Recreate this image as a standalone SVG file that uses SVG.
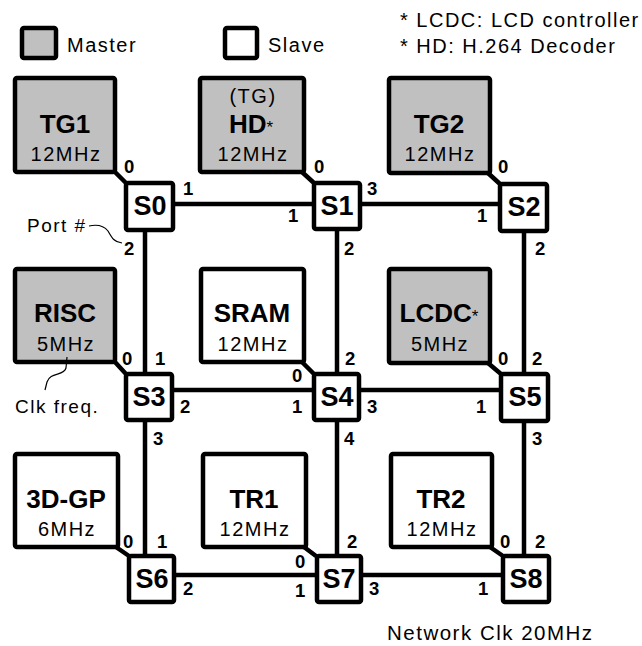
<svg xmlns="http://www.w3.org/2000/svg" width="642" height="646" viewBox="0 0 642 646">
<style>
  .m{fill:#c0c0c0;stroke:#000;stroke-width:4.5}
  .s{fill:#fff;stroke:#000;stroke-width:4.5}
  .ln{stroke:#000;stroke-width:4.5;fill:none}
  .thin{stroke:#000;stroke-width:1.2;fill:none}
  text{font-family:"Liberation Sans",Arial,sans-serif;fill:#000}
  .t{font-size:26px;font-weight:bold;text-anchor:middle}
  .f{font-size:20px;letter-spacing:1.5px;text-anchor:middle}
  .r{font-size:20px;letter-spacing:1.5px}
  .sw{font-size:27px;font-weight:bold;text-anchor:middle}
  .p{font-size:18.5px;font-weight:bold}
  .ast{font-size:17px;font-weight:normal}
</style>
<rect width="642" height="646" fill="#fff"/>
<g id="legend">
  <rect class="m" x="22" y="28" width="34" height="30" rx="2"/>
  <text class="r" x="67" y="52">Master</text>
  <rect class="s" x="225" y="28" width="32" height="30" rx="2"/>
  <text class="r" x="268" y="52">Slave</text>
  <text class="r" x="400" y="27">* LCDC: LCD controller</text>
  <text class="r" x="400" y="53">* HD: H.264 Decoder</text>
</g>
<g id="connectors">
  <path class="ln" d="M115,172 L126,183 M302,172 L314,183 M488,173 L500,184"/>
  <path class="ln" d="M115,362 L126,374 M302,362 L314,374 M488,363 L501,374"/>
  <path class="ln" d="M116,547 L129,556 M304,547 L316,556 M490,547 L503,556"/>
  <path class="ln" d="M175,204 L312,204 M362,204 L498,204"/>
  <path class="ln" d="M174,390 L312,390 M361,390 L500,390"/>
  <path class="ln" d="M176,575 L315,575 M363,575 L501,575"/>
  <path class="ln" d="M145,232 L145,372 M145,422 L145,554"/>
  <path class="ln" d="M337,231 L337,372 M337,422 L337,554"/>
  <path class="ln" d="M524,233 L524,372 M524,423 L524,554"/>
</g>
<g id="TG1"><rect class="m" x="15" y="78" width="100" height="94" rx="2"/><text class="t" x="65" y="133">TG1</text><text class="f" x="66" y="161">12MHz</text></g>
<g id="HD"><rect class="m" x="200" y="78" width="104" height="94" rx="2"/><text class="f" x="253" y="103">(TG)</text><text class="t" x="251" y="133">HD<tspan class="ast">*</tspan></text><text class="f" x="253" y="161">12MHz</text></g>
<g id="TG2"><rect class="m" x="389" y="78" width="101" height="95" rx="2"/><text class="t" x="439" y="133">TG2</text><text class="f" x="440" y="161">12MHz</text></g>
<g id="RISC"><rect class="m" x="15" y="269" width="100" height="93" rx="2"/><text class="t" x="65" y="322">RISC</text><text class="f" x="66" y="351">5MHz</text></g>
<g id="SRAM"><rect class="s" x="201" y="269" width="103" height="93" rx="2"/><text class="t" x="252" y="322">SRAM</text><text class="f" x="253" y="351">12MHz</text></g>
<g id="LCDC"><rect class="m" x="389" y="269" width="101" height="94" rx="2"/><text class="t" x="439" y="322">LCDC<tspan class="ast">*</tspan></text><text class="f" x="440" y="351">5MHz</text></g>
<g id="GP3D"><rect class="s" x="15" y="454" width="103" height="93" rx="2"/><text class="t" x="66" y="508">3D-GP</text><text class="f" x="67" y="536">6MHz</text></g>
<g id="TR1"><rect class="s" x="203" y="454" width="103" height="93" rx="2"/><text class="t" x="254" y="508">TR1</text><text class="f" x="255" y="536">12MHz</text></g>
<g id="TR2"><rect class="s" x="391" y="454" width="101" height="93" rx="2"/><text class="t" x="441" y="508">TR2</text><text class="f" x="442" y="536">12MHz</text></g>
<g id="S0"><rect class="s" x="126" y="183" width="47" height="47" rx="2"/><text class="sw" x="150" y="215">S0</text></g>
<g id="S1"><rect class="s" x="314" y="183" width="46" height="46" rx="2"/><text class="sw" x="337" y="215">S1</text></g>
<g id="S2"><rect class="s" x="500" y="184" width="47" height="47" rx="2"/><text class="sw" x="524" y="216">S2</text></g>
<g id="S3"><rect class="s" x="126" y="374" width="46" height="46" rx="2"/><text class="sw" x="149" y="406">S3</text></g>
<g id="S4"><rect class="s" x="314" y="374" width="45" height="46" rx="2"/><text class="sw" x="337" y="406">S4</text></g>
<g id="S5"><rect class="s" x="501" y="374" width="47" height="47" rx="2"/><text class="sw" x="525" y="406">S5</text></g>
<g id="S6"><rect class="s" x="129" y="556" width="45" height="46" rx="2"/><text class="sw" x="152" y="588">S6</text></g>
<g id="S7"><rect class="s" x="317" y="556" width="44" height="46" rx="2"/><text class="sw" x="339" y="588">S7</text></g>
<g id="S8"><rect class="s" x="503" y="556" width="46" height="46" rx="2"/><text class="sw" x="526" y="588">S8</text></g>
<g id="ports">
  <text class="p" x="124" y="173">0</text><text class="p" x="183" y="195">1</text><text class="p" x="124" y="255">2</text>
  <text class="p" x="288" y="222">1</text><text class="p" x="314" y="173">0</text><text class="p" x="367" y="195">3</text><text class="p" x="344" y="255">2</text>
  <text class="p" x="477" y="222">1</text><text class="p" x="498" y="173">0</text><text class="p" x="535" y="255">2</text>
  <text class="p" x="122" y="365">0</text><text class="p" x="155" y="365">1</text><text class="p" x="180" y="413">2</text><text class="p" x="153" y="445">3</text>
  <text class="p" x="292" y="382">0</text><text class="p" x="292" y="413">1</text><text class="p" x="345" y="365">2</text><text class="p" x="367" y="413">3</text><text class="p" x="344" y="445">4</text>
  <text class="p" x="476" y="413">1</text><text class="p" x="498" y="365">0</text><text class="p" x="532" y="365">2</text><text class="p" x="532" y="445">3</text>
  <text class="p" x="123" y="548">0</text><text class="p" x="157" y="548">1</text><text class="p" x="183" y="595">2</text>
  <text class="p" x="295" y="568">0</text><text class="p" x="295" y="597">1</text><text class="p" x="347" y="548">2</text><text class="p" x="369" y="595">3</text>
  <text class="p" x="478" y="595">1</text><text class="p" x="500" y="548">0</text><text class="p" x="535" y="548">2</text>
</g>
<g id="annotations">
  <text class="r" style="font-size:19px" x="27" y="232">Port #</text>
  <path class="thin" d="M89,226 C98,224 104,226 108,231 C112,238 114,242 122,243"/>
  <text class="r" style="font-size:19px" x="15" y="413">Clk freq.</text>
  <path class="thin" d="M67,357 L66,368 C64,376 50,372 47,382 L45,390"/>
  <text class="r" style="font-size:20.5px" x="387" y="640">Network Clk 20MHz</text>
</g>
</svg>
